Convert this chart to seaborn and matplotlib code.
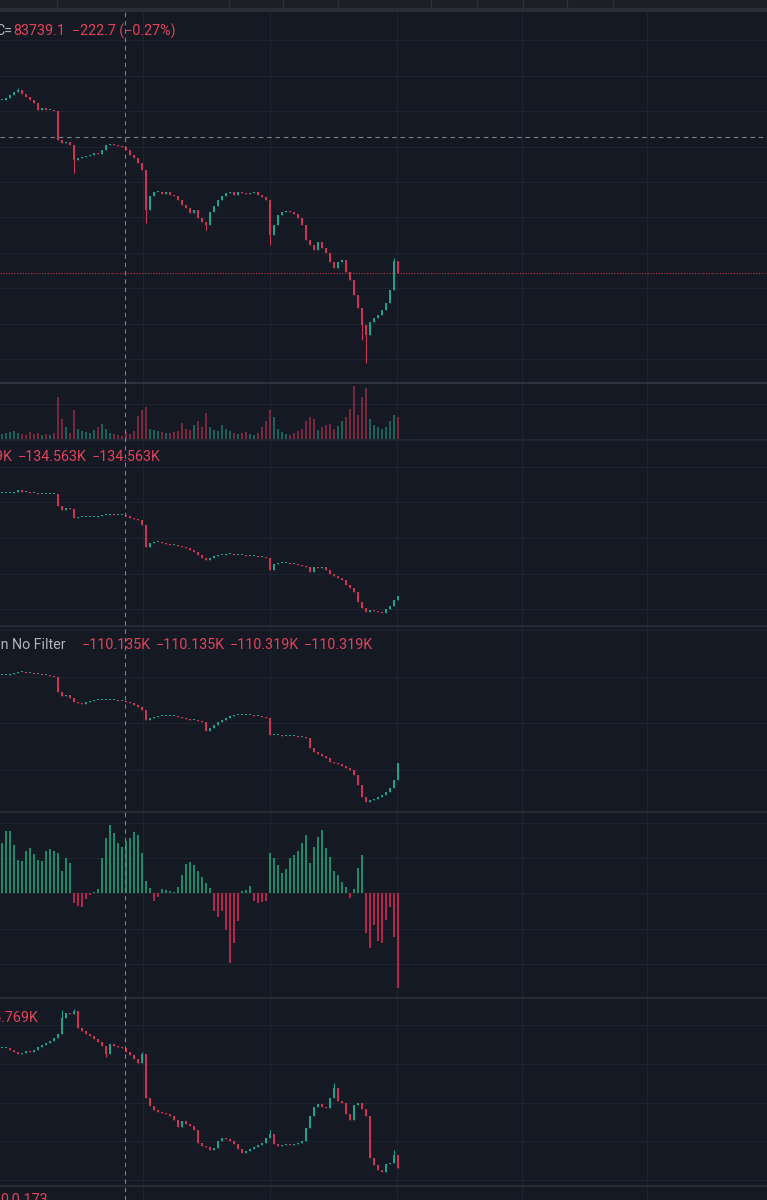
import numpy as np
import pandas as pd
import seaborn as sns
import matplotlib.pyplot as plt
from matplotlib.lines import Line2D

# values, one bar every ~4 px
price_close = [84712, 84723, 84740, 84757, 84768, 84746, 84729, 84712, 84695, 84656,
               84667, 84656, 84656, 84650, 84487, 84470, 84475, 84459, 84374, 84385,
               84391, 84397, 84402, 84413, 84408, 84430, 84459, 84464, 84459, 84453,
               84447, 84430, 84402, 84385, 84357, 84318, 84092, 84171, 84194, 84194,
               84182, 84194, 84177, 84171, 84149, 84120, 84104, 84075, 84092, 84047,
               84025, 84008, 84081, 84115, 84149, 84171, 84188, 84194, 84177, 84194,
               84188, 84182, 84188, 84194, 84177, 84166, 84149, 83951, 84008, 84064,
               84081, 84087, 84081, 84070, 84047, 84008, 83923, 83895, 83867, 83912,
               83878, 83850, 83799, 83765, 83799, 83811, 83743, 83698, 83613, 83540,
               83444, 83388, 83461, 83484, 83501, 83529, 83568, 83642, 83805, 83739.1]
price_low_bar = [18, 36, 51, 67, 90, 91]
price_low_val = [84301, 84019, 83980, 83895, 83360, 83230]
price_high_bar = [4, 98]
price_high_val = [84780, 83822]

volume = [5, 6, 7, 8, 6, 5, 4, 7, 5, 6,
          4, 5, 4, 6, 42, 20, 12, 6, 29, 10,
          8, 7, 6, 9, 12, 15, 10, 6, 5, 4,
          3, 7, 5, 8, 23, 29, 32, 10, 9, 8,
          7, 6, 6, 7, 8, 16, 10, 9, 14, 18,
          12, 26, 12, 9, 8, 14, 10, 8, 6, 5,
          6, 7, 5, 4, 6, 12, 18, 29, 22, 10,
          7, 5, 4, 6, 8, 10, 18, 22, 20, 9,
          12, 14, 15, 10, 13, 18, 22, 30, 53, 24,
          42, 51, 20, 14, 12, 10, 12, 18, 24, 22]

cvd_close = [-124.3, -124.3, -124.3, -124.2, -124.0, -124.2, -124.2, -124.3, -124.3, -124.4,
             -124.4, -124.4, -124.4, -124.4, -125.6, -126.0, -125.8, -125.9, -126.8, -126.7,
             -126.7, -126.7, -126.7, -126.7, -126.6, -126.5, -126.5, -126.4, -126.5, -126.5,
             -126.5, -126.6, -126.8, -126.9, -127.0, -127.5, -129.7, -129.3, -129.2, -129.2,
             -129.3, -129.4, -129.5, -129.5, -129.6, -129.7, -129.8, -130.0, -130.2, -130.5,
             -130.8, -131.0, -130.8, -130.6, -130.5, -130.5, -130.4, -130.4, -130.5, -130.5,
             -130.5, -130.6, -130.6, -130.6, -130.7, -130.7, -130.8, -132.0, -131.4, -131.3,
             -131.3, -131.3, -131.4, -131.4, -131.5, -131.6, -131.7, -132.2, -131.7, -131.8,
             -131.7, -132.0, -132.4, -132.6, -132.8, -133.0, -133.5, -133.8, -134.2, -135.2,
             -135.8, -136.2, -136.0, -136.1, -136.2, -136.3, -135.9, -135.6, -135.0, -134.563]

nofilter_close = [-101.5, -101.5, -101.4, -101.3, -101.2, -101.2, -101.3, -101.3, -101.4, -101.4,
                  -101.5, -101.5, -101.6, -101.7, -103.2, -103.6, -103.5, -103.8, -104.2, -104.3,
                  -104.4, -104.2, -104.1, -104.0, -104.0, -104.0, -104.0, -104.0, -104.0, -104.1,
                  -104.1, -104.2, -104.3, -104.5, -104.7, -105.0, -106.0, -105.8, -105.7, -105.6,
                  -105.6, -105.6, -105.6, -105.6, -105.7, -105.8, -105.9, -106.0, -106.0, -106.1,
                  -106.2, -107.1, -106.8, -106.5, -106.2, -106.0, -105.8, -105.6, -105.5, -105.5,
                  -105.5, -105.5, -105.5, -105.6, -105.6, -105.7, -105.8, -107.5, -107.5, -107.5,
                  -107.6, -107.6, -107.6, -107.6, -107.7, -107.7, -107.8, -108.8, -109.2, -109.4,
                  -109.6, -109.8, -110.2, -110.3, -110.4, -110.6, -110.8, -111.0, -111.5, -112.5,
                  -113.7, -114.2, -114.0, -113.9, -113.7, -113.5, -113.2, -112.8, -112.0, -110.319]

hist_delta = [50, 62, 62, 48, 33, 32, 42, 45, 39, 33,
              32, 42, 44, 42, 40, 22, 35, 30, -10, -13,
              -14, -6, -2, 1, 4, 35, 55, 68, 60, 50,
              46, 52, 55, 61, 58, 40, 12, 5, -8, -4,
              4, 3, 2, 1, 6, 18, 29, 31, 28, 22,
              16, 10, 5, -18, -24, -18, -37, -70, -50, -28,
              2, 3, 7, -8, -10, -9, -8, 40, 35, 28,
              20, 24, 35, 38, 42, 50, 58, 30, 46, 56,
              63, 45, 36, 22, 18, 11, 6, -5, 4, 25,
              38, -40, -55, -32, -48, -50, -27, -14, -44, -95]

last_close = [-76.8, -76.8, -77.0, -77.2, -77.4, -77.3, -77.1, -77.2, -77.0, -76.7,
              -76.5, -76.3, -76.1, -75.8, -75.4, -73.8, -73.3, -73.4, -73.1, -74.8,
              -75.1, -75.4, -75.6, -75.9, -76.2, -76.6, -77.4, -76.4, -76.6, -76.7,
              -76.8, -77.2, -77.5, -77.9, -78.3, -77.4, -81.8, -82.6, -83.0, -83.2,
              -83.3, -83.4, -83.6, -84.0, -84.7, -84.1, -84.4, -84.6, -85.0, -86.3,
              -86.6, -86.7, -87.0, -86.8, -86.1, -85.8, -85.9, -86.1, -86.4, -86.9,
              -87.3, -87.1, -86.9, -86.7, -86.5, -86.3, -85.8, -85.4, -86.4, -86.6,
              -86.5, -86.4, -86.5, -86.4, -86.3, -86.1, -84.8, -83.6, -82.7, -82.4,
              -82.7, -82.8, -81.8, -80.8, -82.1, -82.3, -83.4, -84.0, -82.5, -82.3,
              -82.9, -83.6, -87.8, -88.5, -89.0, -89.2, -88.4, -88.3, -87.5, -88.8]
last_high_bar = [15, 18, 35, 67, 83, 98]
last_high_val = [-73.0, -72.9, -77.2, -85.0, -80.3, -87.0]
last_low_bar = [26]
last_low_val = [-77.7]

BG = '#151924'
GRID = '#1f2330'
SEP = '#2b2f3a'
UP = '#22a08a'
DN = '#cc3452'
H_UP = '#1f8a66'
H_DN = '#b32649'
TXT_RED = '#e5425a'
TXT_GRAY = '#b2b5be'
CROSS = '#7d818c'

W, H = 767, 1200
n = len(price_close)
idx = np.arange(n)


def px2i(px):
    # one bar every 4 px, first bar at x=2
    return (np.asarray(px, float) - 2) / 4


XLIM = (px2i(0), px2i(W))
vgrid = px2i([143, 270, 397, 522, 647])

sns.set_theme(style='dark', rc={'axes.facecolor': BG, 'figure.facecolor': BG})
plt.rcParams['font.family'] = ['Roboto', 'DejaVu Sans']

fig = plt.figure(figsize=(W / 100, H / 100), dpi=100)


def pane(top, bottom, ylim, yticks):
    ax = fig.add_axes([0, 1 - bottom / H, 1, (bottom - top) / H])
    ax.set_facecolor(BG)
    for s in ax.spines.values():
        s.set_visible(False)
    ax.set_xlim(*XLIM)
    ax.set_ylim(*ylim)
    ax.set_xticks(vgrid)
    ax.set_yticks(yticks)
    ax.tick_params(length=0, labelbottom=False, labelleft=False)
    ax.grid(True, color=GRID, lw=0.8)
    ax.set_axisbelow(True)
    return ax


def candles(ax, close, min_h, low_bar=(), low_val=(), high_bar=(), high_val=()):
    c = np.asarray(close, float)
    o = np.r_[c[0], c[:-1]]
    col = np.where(c >= o, UP, DN)
    lo = np.minimum(o, c)
    hi = np.maximum(o, c)
    wlo, whi = lo.copy(), hi.copy()
    wlo[list(low_bar)] = low_val
    whi[list(high_bar)] = high_val
    ax.vlines(idx, wlo, whi, colors=col, lw=0.8)
    ax.bar(idx, np.maximum(hi - lo, min_h), bottom=lo, width=0.6, color=col, linewidth=0)
    return col


def finish(ax):
    ax.set_xlim(*XLIM)
    ax.set_xlabel('')
    ax.set_ylabel('')
    ax.tick_params(length=0, labelbottom=False, labelleft=False)


# top toolbar strip
top = fig.add_axes([0, 1 - 8 / H, 1, 8 / H])
top.set_xlim(0, W)
top.set_ylim(0, 1)
top.axis('off')
top.add_patch(plt.Rectangle((0, 0), W, 1, color='#1c1f26'))
top.vlines([57, 229, 283, 338, 431, 477, 523, 567, 613], 0, 1, colors='#2e323c', lw=1)
fig.add_artist(plt.Rectangle((0, 1 - 12 / H), 1, 4 / H, transform=fig.transFigure,
                             color='#2a2e39', zorder=0))

# price pane
axp = pane(12, 382, (83123, 85208), np.arange(83250, 85100, 200))
pcol = candles(axp, price_close, 5, price_low_bar, price_low_val, price_high_bar, price_high_val)
axp.axhline(price_close[-1], color='#c0304c', ls=(0, (1, 1.5)), lw=0.8)
axp.axhline(84503, color=CROSS, ls=(0, (4, 3.5)), lw=0.8)

# volume pane
axv = pane(383, 440, (-1, 56), [0, 35])
vol_df = pd.DataFrame({'bar': idx, 'vol': volume,
                       'side': np.where(pcol == UP, 'up', 'down')})
sns.barplot(data=vol_df, x='bar', y='vol', hue='side', palette={'up': UP, 'down': DN},
            native_scale=True, dodge=False, width=0.55, errorbar=None, legend=False,
            saturation=1, alpha=0.55, linewidth=0, ax=axv)
finish(axv)

# cvd pane
axc = pane(440, 625, (-137.5, -119.0), np.arange(-135.9, -121.0, 3.55))
candles(axc, cvd_close, 0.12)

# no filter pane
axn = pane(626, 812, (-115.2, -96.6), np.arange(-111.0, -96.5, 4.67))
candles(axn, nofilter_close, 0.12)

# delta histogram pane
axh = pane(812, 998, (-105.5, 80.5), [-71, -36, 0, 35, 70])
hist_df = pd.DataFrame({'bar': idx, 'delta': hist_delta,
                        'side': np.where(np.array(hist_delta) >= 0, 'buy', 'sell')})
sns.barplot(data=hist_df, x='bar', y='delta', hue='side', palette={'buy': H_UP, 'sell': H_DN},
            native_scale=True, dodge=False, width=0.65, errorbar=None, legend=False,
            saturation=1, linewidth=0, ax=axh)
finish(axh)

# last pane
axl = pane(998, 1186, (-90.6, -71.8), np.arange(-90.0, -74.0, 3.875))
candles(axl, last_close, 0.12, last_low_bar, last_low_val, last_high_bar, last_high_val)

axb = pane(1186, 1200, (0, 1), [])

# pane separators
for y, c in [(382.5, '#353945'), (439.5, '#232733'), (625.5, SEP), (812, SEP),
             (998, SEP), (1186, SEP)]:
    fig.add_artist(Line2D([0, 1], [1 - y / H, 1 - y / H], transform=fig.transFigure,
                          color=c, lw=1.2))

# vertical crosshair through all panes
fig.add_artist(Line2D([125 / W, 125 / W], [0, 1 - 12 / H], transform=fig.transFigure,
                      color=CROSS, lw=0.8, ls=(0, (4, 3.5))))


def label(x, y, s, color=TXT_RED, ha='left'):
    fig.text(x / W, 1 - y / H, s, color=color, ha=ha, va='center', fontsize=10.3)


label(12, 31, 'C=', TXT_GRAY, ha='right')
label(13, 31, '83739.1')
label(72, 31, '−222.7 (−0.27%)')

label(12.5, 457, '−134.569K', ha='right')
label(18, 457, '−134.563K')
label(92, 457, '−134.563K')

label(66, 645, 'Mean No Filter', TXT_GRAY, ha='right')
label(82, 645, '−110.135K')
label(156, 645, '−110.135K')
label(230, 645, '−110.319K')
label(304, 645, '−110.319K')

label(39, 1018, '−85.769K', ha='right')
label(0, 1200, '0.0.173')

fig.savefig('out.png', dpi=100, facecolor=BG)
